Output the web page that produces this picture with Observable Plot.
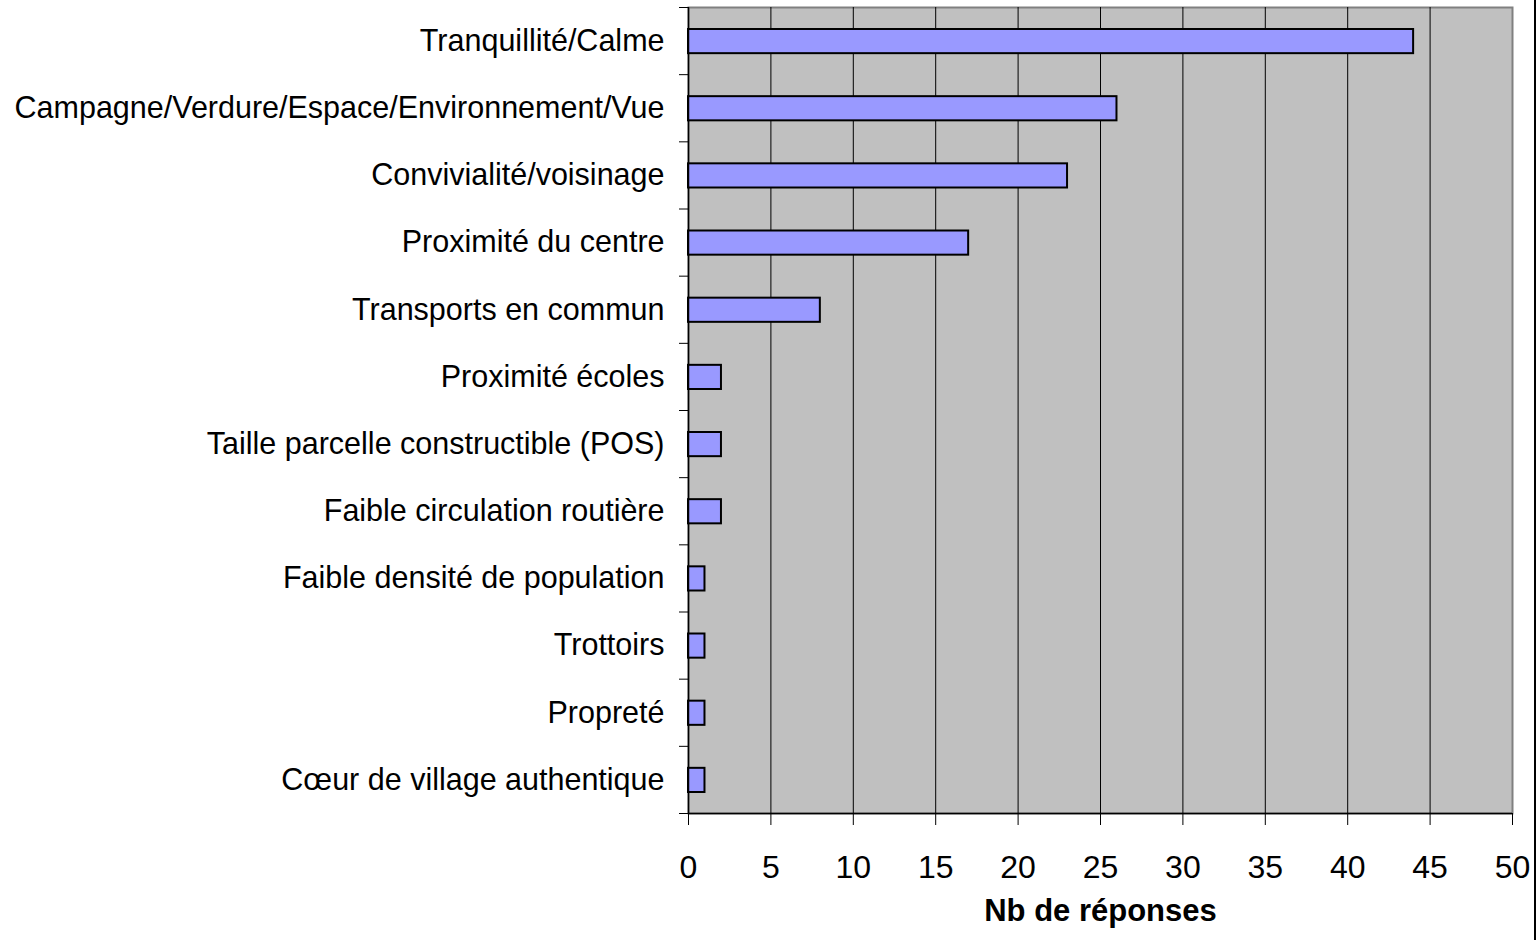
<!DOCTYPE html>
<html>
<head>
<meta charset="utf-8">
<script src="https://cdn.jsdelivr.net/npm/d3@7"></script>
<script src="https://cdn.jsdelivr.net/npm/@observablehq/plot@0.6"></script>
<style>
  html, body { margin: 0; padding: 0; background: #fff; }
  #wrap { position: relative; width: 1538px; height: 940px; overflow: hidden; }
  #edge { position: absolute; left: 1534px; top: 0; width: 2px; height: 940px; background: #000; }
</style>
</head>
<body>
<div id="wrap"><div id="edge"></div></div>
<script>
const categories = [
  "Tranquillité/Calme",
  "Campagne/Verdure/Espace/Environnement/Vue",
  "Convivialité/voisinage",
  "Proximité du centre",
  "Transports en commun",
  "Proximité écoles",
  "Taille parcelle constructible (POS)",
  "Faible circulation routière",
  "Faible densité de population",
  "Trottoirs",
  "Propreté",
  "Cœur de village authentique"
];
const values = [44, 26, 23, 17, 8, 2, 2, 2, 1, 1, 1, 1];
const xTicks = [0, 5, 10, 15, 20, 25, 30, 35, 40, 45, 50];
const xLabel = "Nb de réponses";

const data = categories.map((c, i) => ({category: c, value: values[i], i}));
const bounds = d3.range(categories.length + 1);

const chart = Plot.plot({
  width: 1538,
  height: 940,
  marginLeft: 688,
  marginRight: 26,
  marginTop: 7,
  marginBottom: 127,
  style: {fontFamily: "'Liberation Sans', Arial, sans-serif", background: "transparent", color: "#000"},
  x: {domain: [0, 50], label: null},
  y: {domain: [0, categories.length], reverse: true, label: null},
  marks: [
    Plot.frame({fill: "#C0C0C0", stroke: "#808080", strokeWidth: 2}),
    Plot.ruleX(xTicks.filter(t => t > 0 && t < 50), {stroke: "#000", strokeWidth: 1}),
    Plot.rectX(data, {
      x: "value",
      y1: "i",
      y2: d => d.i + 1,
      insetTop: 22,
      insetBottom: 21,
      fill: "#9999FF",
      stroke: "#000",
      strokeWidth: 2
    }),
    Plot.ruleX([0], {stroke: "#000", strokeWidth: 1.5}),
    Plot.ruleY([categories.length], {stroke: "#000", strokeWidth: 1.5}),
    Plot.axisY({ticks: bounds, tickSize: 9, tickFormat: () => "", stroke: "#000", label: null}),
    Plot.axisX({ticks: xTicks, tickSize: 12, tickPadding: 30, fontSize: 32, stroke: "#000", fill: "#000", label: null}),
    Plot.text(data, {
      x: 0,
      y: d => d.i + 0.5,
      text: "category",
      textAnchor: "end",
      dx: -24,
      fontSize: 30.5,
      fill: "#000"
    }),
    Plot.text([xLabel], {
      frameAnchor: "bottom",
      text: d => d,
      dy: 107,
      fontSize: 31,
      fontWeight: "bold",
      fill: "#000"
    })
  ]
});
document.getElementById("wrap").prepend(chart);
</script>
</body>
</html>
